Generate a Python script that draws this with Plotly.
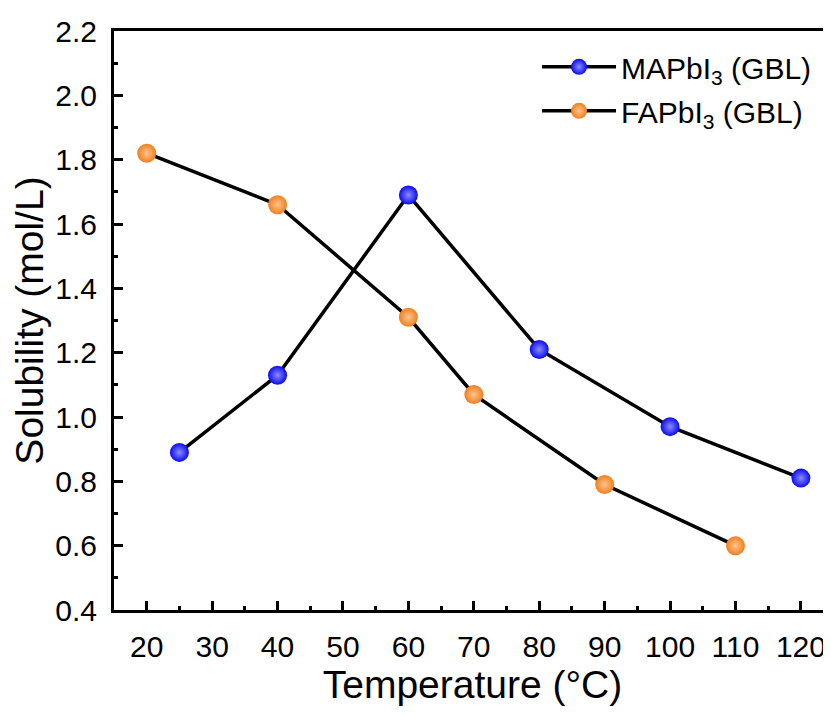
import plotly.graph_objects as go

ma_temp = [25, 40, 60, 80, 100, 120]
ma_sol = [0.89, 1.13, 1.69, 1.21, 0.97, 0.81]
fa_temp = [20, 40, 60, 70, 90, 110]
fa_sol = [1.82, 1.66, 1.31, 1.07, 0.79, 0.60]

FONT = "Liberation Sans, Arial, sans-serif"

fig = go.Figure()
fig.add_trace(go.Scatter(
    x=ma_temp, y=ma_sol, mode="lines+markers", name="MAPbI<sub>3</sub> (GBL)",
    line=dict(color="black", width=3.5), legend="legend",
    marker=dict(size=19, color="#0a0af0", line=dict(width=0),
                gradient=dict(type="radial", color="#8c8cff")),
))
fig.add_trace(go.Scatter(
    x=fa_temp, y=fa_sol, mode="lines+markers", name="FAPbI<sub>3</sub> (GBL)",
    line=dict(color="black", width=3.5), legend="legend2",
    marker=dict(size=19, color="#f07f1e", line=dict(width=0),
                gradient=dict(type="radial", color="#ffc48f")),
))

leg_common = dict(x=0.59, xanchor="left", yanchor="top",
                  font=dict(size=30, family=FONT), itemwidth=74,
                  bgcolor="rgba(0,0,0,0)")

# page body has an 8px default margin, so the figure is 8px smaller and margins compensate
fig.update_layout(
    width=823, height=707,
    margin=dict(l=106, r=0, t=23, b=105, autoexpand=False),
    paper_bgcolor="white", plot_bgcolor="white",
    font=dict(family=FONT, color="black", size=30),
    showlegend=True,
    legend=dict(y=0.983, **leg_common),
    legend2=dict(y=0.907, **leg_common),
    xaxis=dict(
        range=[15, 124.6], showgrid=False, zeroline=False, automargin=False,
        showline=True, linecolor="black", linewidth=3, mirror=True,
        ticks="inside", ticklen=9, tickwidth=3, tickcolor="black",
        tick0=20, dtick=10, ticklabelstandoff=8,
        minor=dict(ticks="inside", ticklen=4, tickwidth=3, dtick=5, tick0=15, tickcolor="black"),
        tickfont=dict(size=30),
        title=dict(text="Temperature (°C)", font=dict(size=39), standoff=9),
    ),
    yaxis=dict(
        range=[0.4, 2.2], showgrid=False, zeroline=False, automargin=False,
        showline=True, linecolor="black", linewidth=3, mirror=False,
        ticks="inside", ticklen=9, tickwidth=3, tickcolor="black",
        tick0=0.4, dtick=0.2, tickformat=".1f", ticklabelstandoff=8,
        minor=dict(ticks="inside", ticklen=4, tickwidth=3, dtick=0.1, tickcolor="black"),
        tickfont=dict(size=30),
        title=dict(text="Solubility (mol/L)", font=dict(size=39), standoff=6),
    ),
)

fig.write_html("out.html")
